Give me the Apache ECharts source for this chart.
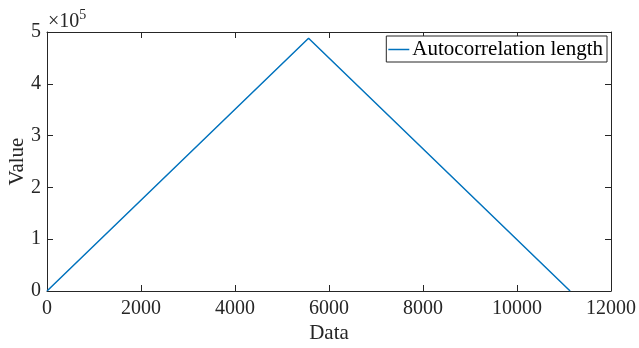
<!DOCTYPE html>
<html>
<head>
<meta charset="utf-8">
<script src="https://cdn.jsdelivr.net/npm/echarts@6/dist/echarts.min.js"></script>
<style>html,body{margin:0;padding:0;background:#fff;}#c{width:639px;height:348px;}</style>
</head>
<body>
<div id="c"></div>
<script>
var seriesName = 'Autocorrelation length';
var xData = [0, 5565, 11130];
var yData = [0, 488000, 0];
var xTicks = [0, 2000, 4000, 6000, 8000, 10000, 12000];
var yTicks = [0, 1, 2, 3, 4, 5];
var yScale = 1e5;

var FONT = '"Liberation Serif", "Times New Roman", serif';
var AX = '#262626';
var chart = echarts.init(document.getElementById('c'), null, {renderer: 'canvas'});
var pts = xData.map(function (x, i) { return [x, yData[i]]; });
var axLine = {show: true, onZero: false, lineStyle: {color: AX, width: 1}};
var axTick = {show: true, inside: true, length: 6, lineStyle: {color: AX, width: 1}};
chart.setOption({
  animation: false,
  backgroundColor: '#fff',
  grid: {left: 47, right: 28, top: 32, bottom: 57, containLabel: false, outerBoundsMode: 'none'},
  legend: {
    data: [seriesName], right: 32, top: 36,
    backgroundColor: '#fff', borderColor: AX, borderWidth: 1, borderRadius: 0,
    padding: [3, 4, 2, 2], icon: 'rect', itemWidth: 21, itemHeight: 1.5, itemGap: 0,
    textStyle: {fontFamily: FONT, fontSize: 21, color: '#000', padding: [0, 0, 0, -2]}
  },
  xAxis: [{
    type: 'value', min: xTicks[0], max: xTicks[xTicks.length - 1], interval: 2000,
    axisLine: axLine, axisTick: axTick, splitLine: {show: false},
    axisLabel: {fontFamily: FONT, fontSize: 20, color: AX, margin: 8,
      formatter: function (v) { return String(v); }},
    name: 'Data', nameLocation: 'middle', nameGap: 32, nameMoveOverlap: false,
    nameTextStyle: {fontFamily: FONT, fontSize: 21, color: AX}
  }, {
    type: 'value', position: 'top', min: xTicks[0], max: xTicks[xTicks.length - 1], interval: 2000,
    axisLine: axLine, axisTick: axTick, axisLabel: {show: false}, splitLine: {show: false}
  }],
  yAxis: [{
    type: 'value', min: yTicks[0] * yScale, max: yTicks[yTicks.length - 1] * yScale, interval: yScale,
    axisLine: axLine, axisTick: axTick, splitLine: {show: false},
    axisLabel: {fontFamily: FONT, fontSize: 20, color: AX, margin: 6,
      formatter: function (v) { return String(Math.round(v / yScale)); }},
    name: 'Value', nameLocation: 'middle', nameGap: 19, nameRotate: 90, nameMoveOverlap: false,
    nameTextStyle: {fontFamily: FONT, fontSize: 21, color: AX}
  }, {
    type: 'value', position: 'right', min: yTicks[0] * yScale, max: yTicks[yTicks.length - 1] * yScale, interval: yScale,
    axisLine: axLine, axisTick: axTick, axisLabel: {show: false}, splitLine: {show: false}
  }],
  graphic: [{
    type: 'text', left: 48, top: 8,
    style: {
      text: '{a|×10}{b|5}',
      rich: {
        a: {fontFamily: FONT, fontSize: 20, fill: AX, verticalAlign: 'bottom'},
        b: {fontFamily: FONT, fontSize: 14, fill: AX, verticalAlign: 'top', padding: [0, 0, 10, 0]}
      }
    }
  }],
  series: [{
    name: seriesName, type: 'line', data: pts, showSymbol: false,
    lineStyle: {color: '#0072BD', width: 1.5}, itemStyle: {color: '#0072BD'}
  }]
});
</script>
</body>
</html>
